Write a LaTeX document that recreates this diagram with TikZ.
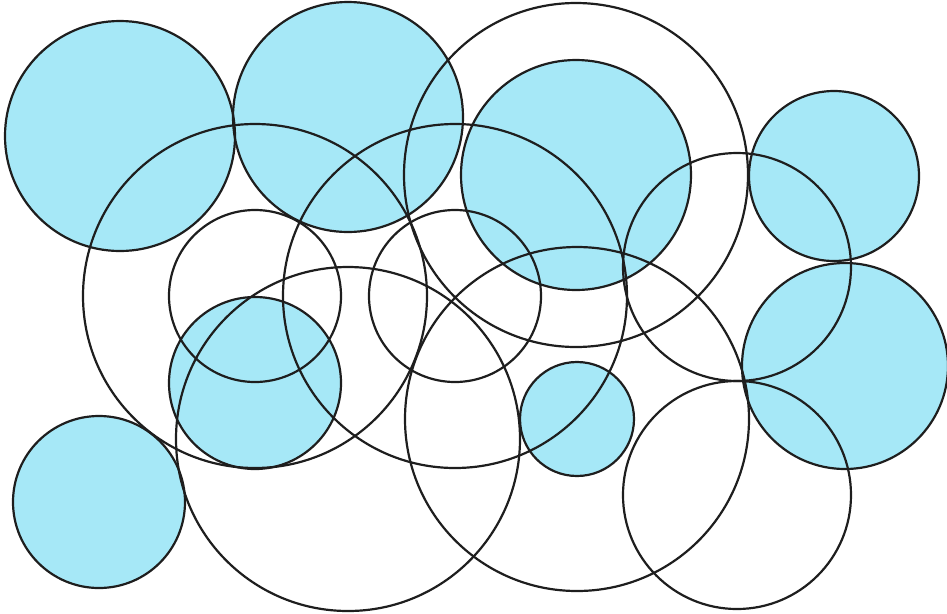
\documentclass[tikz,border=0pt]{standalone}
\usepackage{xcolor}
\usepackage{tikz}
\definecolor{skyfill}{HTML}{A6E8F7}
\definecolor{inkline}{HTML}{1E1E1E}

\begin{document}
\begin{tikzpicture}[x=0.02cm, y=-0.02cm, line width=1.25pt,
  tinted/.style={fill=skyfill},
  ring/.style={draw=inkline}]
  \useasboundingbox (0,0) rectangle (947,613);
  % blue discs first, so every outline lies on top
  \foreach \cx/\cy/\r in {120/136/115, 348/117/115, 576/175/115, 834/176/85,
                          845/366/103, 255/383/86, 577/419/57, 99/502/86}
    \fill[tinted] (\cx,\cy) circle[radius={0.02cm*\r}];
  % outlines of filled and open circles
  \foreach \cx/\cy/\r in {120/136/115, 348/117/115, 576/175/115, 834/176/85,
                          845/366/103, 255/383/86, 577/419/57, 99/502/86,
                          255/296/172, 455/296/172, 576/175/172, 255/296/86,
                          455/296/86, 737/267/114, 348/439/172, 577/419/172,
                          737/495/114}
    \draw[ring] (\cx,\cy) circle[radius={0.02cm*\r}];
\end{tikzpicture}
\end{document}
